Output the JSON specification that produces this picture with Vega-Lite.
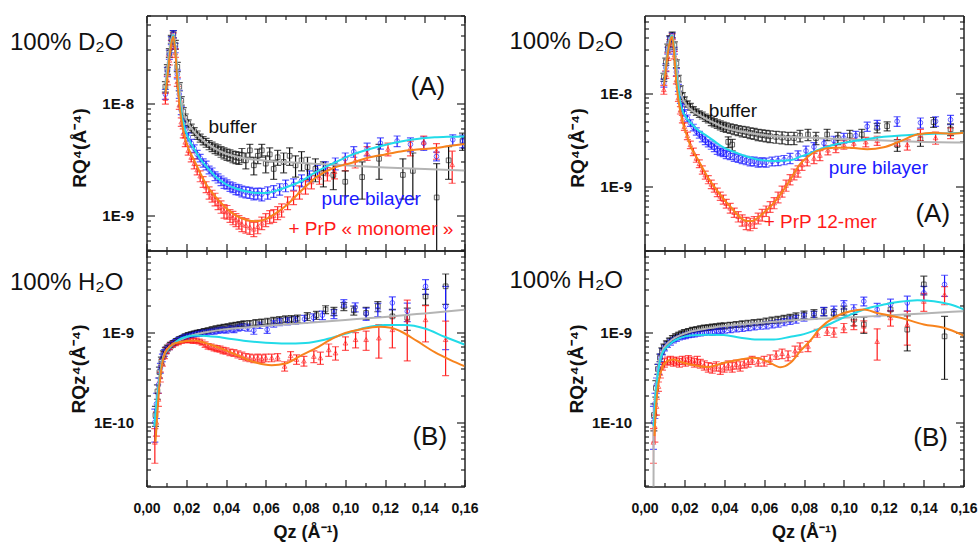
{
"$schema":"https://vega.github.io/schema/vega-lite/v6.json",
"background":"white",
"padding":{"left":9.5,"top":8.5,"right":5,"bottom":2},
"config":{"view":{"stroke":null},"axis":{"domainColor":"#222","domainWidth":1.5,"tickColor":"#222","tickWidth":1.2,"labelFont":"Liberation Sans","labelFontWeight":"bold","labelColor":"#111","titleFont":"Liberation Sans","titleFontWeight":"bold","titleColor":"#111","grid":false,"labelOverlap":false,"labelFlush":false,"labelBound":false},"text":{"font":"Liberation Sans"}},
"datasets":{
"LA_f":[
{"s":"g","q":0.0095,"v":1.5e-8},{"s":"g","q":0.0105,"v":2.1e-8},{"s":"g","q":0.0115,"v":2.9e-8},{"s":"g","q":0.0125,"v":3.7e-8},{"s":"g","q":0.0135,"v":4.1e-8},{"s":"g","q":0.0145,"v":3.2e-8},{"s":"g","q":0.0155,"v":2.0e-8},{"s":"g","q":0.0165,"v":1.35e-8},{"s":"g","q":0.0175,"v":1.0e-8},{"s":"g","q":0.019,"v":7.8e-9},{"s":"g","q":0.021,"v":6.6e-9},{"s":"g","q":0.0235,"v":5.7e-9},{"s":"g","q":0.026,"v":5.1e-9},{"s":"g","q":0.03,"v":4.45e-9},{"s":"g","q":0.035,"v":3.9e-9},{"s":"g","q":0.04,"v":3.55e-9},{"s":"g","q":0.045,"v":3.35e-9},{"s":"g","q":0.05,"v":3.22e-9},{"s":"g","q":0.06,"v":3.08e-9},{"s":"g","q":0.07,"v":2.99e-9},{"s":"g","q":0.08,"v":2.92e-9},{"s":"g","q":0.09,"v":2.86e-9},{"s":"g","q":0.1,"v":2.8e-9},{"s":"g","q":0.12,"v":2.68e-9},{"s":"g","q":0.14,"v":2.6e-9},{"s":"g","q":0.16,"v":2.52e-9},
{"s":"c","q":0.0095,"v":1.3e-8},{"s":"c","q":0.0105,"v":1.8e-8},{"s":"c","q":0.0115,"v":2.6e-8},{"s":"c","q":0.0125,"v":3.5e-8},{"s":"c","q":0.0135,"v":4.0e-8},{"s":"c","q":0.0145,"v":3.0e-8},{"s":"c","q":0.0155,"v":1.75e-8},{"s":"c","q":0.0165,"v":1.15e-8},{"s":"c","q":0.0175,"v":8.3e-9},{"s":"c","q":0.019,"v":6.2e-9},{"s":"c","q":0.021,"v":4.9e-9},{"s":"c","q":0.024,"v":3.9e-9},{"s":"c","q":0.027,"v":3.2e-9},{"s":"c","q":0.03,"v":2.75e-9},{"s":"c","q":0.035,"v":2.2e-9},{"s":"c","q":0.04,"v":1.9e-9},{"s":"c","q":0.045,"v":1.74e-9},{"s":"c","q":0.05,"v":1.64e-9},{"s":"c","q":0.055,"v":1.59e-9},{"s":"c","q":0.06,"v":1.59e-9},{"s":"c","q":0.065,"v":1.66e-9},{"s":"c","q":0.07,"v":1.78e-9},{"s":"c","q":0.0775,"v":2.01e-9},{"s":"c","q":0.085,"v":2.42e-9},{"s":"c","q":0.094,"v":2.92e-9},{"s":"c","q":0.102,"v":3.4e-9},{"s":"c","q":0.111,"v":3.85e-9},{"s":"c","q":0.12,"v":4.25e-9},{"s":"c","q":0.128,"v":4.56e-9},{"s":"c","q":0.136,"v":4.8e-9},{"s":"c","q":0.145,"v":4.96e-9},{"s":"c","q":0.152,"v":5.02e-9},{"s":"c","q":0.16,"v":5.06e-9},
{"s":"o","q":0.0095,"v":1.2e-8},{"s":"o","q":0.0105,"v":1.7e-8},{"s":"o","q":0.0115,"v":2.5e-8},{"s":"o","q":0.0125,"v":3.4e-8},{"s":"o","q":0.0135,"v":3.9e-8},{"s":"o","q":0.0145,"v":2.9e-8},{"s":"o","q":0.0155,"v":1.6e-8},{"s":"o","q":0.0165,"v":1.0e-8},{"s":"o","q":0.0175,"v":7.2e-9},{"s":"o","q":0.019,"v":5.2e-9},{"s":"o","q":0.021,"v":4.0e-9},{"s":"o","q":0.024,"v":3.1e-9},{"s":"o","q":0.027,"v":2.4e-9},{"s":"o","q":0.03,"v":1.9e-9},{"s":"o","q":0.035,"v":1.45e-9},{"s":"o","q":0.04,"v":1.17e-9},{"s":"o","q":0.045,"v":1.0e-9},{"s":"o","q":0.05,"v":9.2e-10},{"s":"o","q":0.055,"v":8.9e-10},{"s":"o","q":0.06,"v":9.3e-10},{"s":"o","q":0.065,"v":1.05e-9},{"s":"o","q":0.07,"v":1.22e-9},{"s":"o","q":0.0775,"v":1.64e-9},{"s":"o","q":0.086,"v":2.23e-9},{"s":"o","q":0.094,"v":2.65e-9},{"s":"o","q":0.103,"v":2.94e-9},{"s":"o","q":0.111,"v":3.25e-9},{"s":"o","q":0.12,"v":3.5e-9},{"s":"o","q":0.128,"v":3.72e-9},{"s":"o","q":0.136,"v":3.86e-9},{"s":"o","q":0.145,"v":3.98e-9},{"s":"o","q":0.152,"v":4.15e-9},{"s":"o","q":0.16,"v":4.33e-9}],
"LA_p":[
{"s":"k","q":0.0095,"v":1.4e-8,"e":1.5e-9},{"s":"k","q":0.0105,"v":2.0e-8,"e":2e-9},{"s":"k","q":0.0115,"v":2.8e-8,"e":2.5e-9},{"s":"k","q":0.0125,"v":3.7e-8,"e":3e-9},{"s":"k","q":0.0135,"v":4.1e-8,"e":3e-9},{"s":"k","q":0.0145,"v":3.3e-8,"e":3e-9},{"s":"k","q":0.0155,"v":2.1e-8,"e":2e-9},{"s":"k","q":0.0165,"v":1.4e-8,"e":1.2e-9},{"s":"k","q":0.0175,"v":1.05e-8,"e":9e-10},{"s":"k","q":0.0185,"v":8.4e-9,"e":7e-10},{"s":"k","q":0.0195,"v":7.4e-9,"e":6e-10},{"s":"k","q":0.021,"v":6.6e-9,"e":5e-10},{"s":"k","q":0.0225,"v":6.0e-9,"e":5e-10},{"s":"k","q":0.024,"v":5.6e-9,"e":4.5e-10},{"s":"k","q":0.0255,"v":5.2e-9,"e":4.5e-10},{"s":"k","q":0.027,"v":4.9e-9,"e":4e-10},{"s":"k","q":0.0285,"v":4.65e-9,"e":4e-10},{"s":"k","q":0.03,"v":4.45e-9,"e":4e-10},{"s":"k","q":0.0315,"v":4.25e-9,"e":4e-10},{"s":"k","q":0.033,"v":4.1e-9,"e":4e-10},{"s":"k","q":0.0345,"v":3.95e-9,"e":4e-10},{"s":"k","q":0.036,"v":3.85e-9,"e":4e-10},{"s":"k","q":0.0375,"v":3.7e-9,"e":4e-10},{"s":"k","q":0.039,"v":3.6e-9,"e":4e-10},{"s":"k","q":0.0405,"v":3.5e-9,"e":4e-10},{"s":"k","q":0.042,"v":3.45e-9,"e":4e-10},{"s":"k","q":0.0435,"v":3.35e-9,"e":4e-10},{"s":"k","q":0.045,"v":3.3e-9,"e":4e-10},{"s":"k","q":0.0465,"v":3.25e-9,"e":4e-10},{"s":"k","q":0.048,"v":3.45e-9,"e":5e-10},{"s":"k","q":0.05,"v":3.1e-9,"e":5e-10},{"s":"k","q":0.052,"v":3.8e-9,"e":5e-10},{"s":"k","q":0.054,"v":2.8e-9,"e":5e-10},{"s":"k","q":0.056,"v":3.4e-9,"e":5e-10},{"s":"k","q":0.058,"v":3.8e-9,"e":5e-10},{"s":"k","q":0.06,"v":2.9e-9,"e":5e-10},{"s":"k","q":0.062,"v":3.5e-9,"e":5e-10},{"s":"k","q":0.064,"v":2.6e-9,"e":5e-10},{"s":"k","q":0.066,"v":3.3e-9,"e":5e-10},{"s":"k","q":0.069,"v":3.0e-9,"e":6e-10},{"s":"k","q":0.072,"v":3.4e-9,"e":6e-10},{"s":"k","q":0.075,"v":2.8e-9,"e":6e-10},{"s":"k","q":0.078,"v":3.1e-9,"e":6e-10},{"s":"k","q":0.081,"v":2.7e-9,"e":6e-10},{"s":"k","q":0.085,"v":2.6e-9,"e":6e-10},{"s":"k","q":0.089,"v":2.4e-9,"e":6e-10},{"s":"k","q":0.094,"v":2.3e-9,"e":6e-10},{"s":"k","q":0.1,"v":2.0e-9,"e":5e-10},{"s":"k","q":0.1085,"v":2.2e-9,"e":8e-10},{"s":"k","q":0.117,"v":3.2e-9,"e":1.1e-9},{"s":"k","q":0.129,"v":2.3e-9,"e":9e-10},{"s":"k","q":0.134,"v":2.5e-9,"e":1.1e-9},{"s":"k","q":0.146,"v":1.45e-9,"e":1.449e-9},{"s":"k","q":0.152,"v":3.1e-9,"e":1.0e-9},{"s":"k","q":0.159,"v":4.6e-9,"e":8e-10},
{"s":"b","q":0.0095,"v":1.2e-8,"e":1.2e-9},{"s":"b","q":0.0105,"v":1.9e-8,"e":1.8e-9},{"s":"b","q":0.0115,"v":2.7e-8,"e":2.5e-9},{"s":"b","q":0.0125,"v":3.6e-8,"e":3e-9},{"s":"b","q":0.0135,"v":4.1e-8,"e":3e-9},{"s":"b","q":0.0145,"v":3.1e-8,"e":3e-9},{"s":"b","q":0.0155,"v":1.8e-8,"e":1.6e-9},{"s":"b","q":0.0165,"v":1.2e-8,"e":1e-9},{"s":"b","q":0.0175,"v":8.6e-9,"e":7e-10},{"s":"b","q":0.0185,"v":6.8e-9,"e":5e-10},{"s":"b","q":0.0195,"v":5.8e-9,"e":4.5e-10},{"s":"b","q":0.021,"v":5.0e-9,"e":4e-10},{"s":"b","q":0.0225,"v":4.4e-9,"e":3.5e-10},{"s":"b","q":0.024,"v":3.95e-9,"e":3e-10},{"s":"b","q":0.0255,"v":3.5e-9,"e":3e-10},{"s":"b","q":0.027,"v":3.25e-9,"e":2.5e-10},{"s":"b","q":0.0285,"v":2.95e-9,"e":2.5e-10},{"s":"b","q":0.03,"v":2.8e-9,"e":2.5e-10},{"s":"b","q":0.0315,"v":2.55e-9,"e":2e-10},{"s":"b","q":0.033,"v":2.45e-9,"e":2e-10},{"s":"b","q":0.0345,"v":2.25e-9,"e":2e-10},{"s":"b","q":0.036,"v":2.15e-9,"e":2e-10},{"s":"b","q":0.0375,"v":2.05e-9,"e":2e-10},{"s":"b","q":0.039,"v":1.95e-9,"e":2e-10},{"s":"b","q":0.0405,"v":1.9e-9,"e":1.8e-10},{"s":"b","q":0.042,"v":1.82e-9,"e":1.8e-10},{"s":"b","q":0.0435,"v":1.78e-9,"e":1.8e-10},{"s":"b","q":0.045,"v":1.72e-9,"e":1.8e-10},{"s":"b","q":0.0465,"v":1.7e-9,"e":1.8e-10},{"s":"b","q":0.048,"v":1.65e-9,"e":1.8e-10},{"s":"b","q":0.05,"v":1.62e-9,"e":1.8e-10},{"s":"b","q":0.052,"v":1.6e-9,"e":1.8e-10},{"s":"b","q":0.054,"v":1.56e-9,"e":1.8e-10},{"s":"b","q":0.056,"v":1.58e-9,"e":1.8e-10},{"s":"b","q":0.058,"v":1.55e-9,"e":2e-10},{"s":"b","q":0.061,"v":1.6e-9,"e":2e-10},{"s":"b","q":0.064,"v":1.65e-9,"e":2e-10},{"s":"b","q":0.067,"v":1.72e-9,"e":2e-10},{"s":"b","q":0.07,"v":1.85e-9,"e":2.2e-10},{"s":"b","q":0.074,"v":1.9e-9,"e":2.2e-10},{"s":"b","q":0.078,"v":2.05e-9,"e":2.5e-10},{"s":"b","q":0.082,"v":2.25e-9,"e":2.5e-10},{"s":"b","q":0.086,"v":2.5e-9,"e":3e-10},{"s":"b","q":0.09,"v":2.7e-9,"e":3e-10},{"s":"b","q":0.095,"v":2.9e-9,"e":3.5e-10},{"s":"b","q":0.1,"v":3.2e-9,"e":4e-10},{"s":"b","q":0.1043,"v":3.7e-9,"e":4e-10},{"s":"b","q":0.111,"v":3.9e-9,"e":5e-10},{"s":"b","q":0.1177,"v":4.4e-9,"e":5e-10},{"s":"b","q":0.1261,"v":4.6e-9,"e":5e-10},{"s":"b","q":0.1328,"v":4.3e-9,"e":6e-10},{"s":"b","q":0.1395,"v":4.4e-9,"e":6e-10},{"s":"b","q":0.1459,"v":3.36e-9,"e":3e-10},{"s":"b","q":0.1541,"v":4.72e-9,"e":5e-10},{"s":"b","q":0.1591,"v":4.6e-9,"e":6e-10},
{"s":"r","q":0.0095,"v":1.1e-8,"e":1.2e-9},{"s":"r","q":0.0105,"v":1.6e-8,"e":1.5e-9},{"s":"r","q":0.0115,"v":2.4e-8,"e":2.2e-9},{"s":"r","q":0.0125,"v":3.3e-8,"e":3e-9},{"s":"r","q":0.0135,"v":3.9e-8,"e":3e-9},{"s":"r","q":0.0145,"v":2.8e-8,"e":2.5e-9},{"s":"r","q":0.0155,"v":1.55e-8,"e":1.4e-9},{"s":"r","q":0.0165,"v":9.6e-9,"e":8e-10},{"s":"r","q":0.0175,"v":6.8e-9,"e":6e-10},{"s":"r","q":0.0185,"v":5.4e-9,"e":5e-10},{"s":"r","q":0.0195,"v":4.5e-9,"e":4e-10},{"s":"r","q":0.021,"v":3.8e-9,"e":3.5e-10},{"s":"r","q":0.0225,"v":3.3e-9,"e":3e-10},{"s":"r","q":0.024,"v":2.9e-9,"e":3e-10},{"s":"r","q":0.0255,"v":2.55e-9,"e":2.5e-10},{"s":"r","q":0.027,"v":2.25e-9,"e":2.5e-10},{"s":"r","q":0.0285,"v":2.0e-9,"e":2.2e-10},{"s":"r","q":0.03,"v":1.8e-9,"e":2e-10},{"s":"r","q":0.0315,"v":1.6e-9,"e":2e-10},{"s":"r","q":0.033,"v":1.5e-9,"e":1.8e-10},{"s":"r","q":0.0345,"v":1.4e-9,"e":1.8e-10},{"s":"r","q":0.036,"v":1.28e-9,"e":1.5e-10},{"s":"r","q":0.0375,"v":1.2e-9,"e":1.5e-10},{"s":"r","q":0.039,"v":1.1e-9,"e":1.5e-10},{"s":"r","q":0.0405,"v":1.08e-9,"e":1.5e-10},{"s":"r","q":0.042,"v":1.0e-9,"e":1.3e-10},{"s":"r","q":0.0435,"v":9.6e-10,"e":1.3e-10},{"s":"r","q":0.045,"v":9.2e-10,"e":1.2e-10},{"s":"r","q":0.0465,"v":8.8e-10,"e":1.2e-10},{"s":"r","q":0.048,"v":8.4e-10,"e":1.2e-10},{"s":"r","q":0.05,"v":8.2e-10,"e":1.2e-10},{"s":"r","q":0.052,"v":7.9e-10,"e":1.1e-10},{"s":"r","q":0.054,"v":7.6e-10,"e":1.1e-10},{"s":"r","q":0.056,"v":8.0e-10,"e":1.1e-10},{"s":"r","q":0.058,"v":8.6e-10,"e":1.1e-10},{"s":"r","q":0.06,"v":9.2e-10,"e":1.2e-10},{"s":"r","q":0.062,"v":9.8e-10,"e":1.3e-10},{"s":"r","q":0.064,"v":1.0e-9,"e":1.3e-10},{"s":"r","q":0.066,"v":1.06e-9,"e":1.4e-10},{"s":"r","q":0.068,"v":1.12e-9,"e":1.5e-10},{"s":"r","q":0.071,"v":1.3e-9,"e":1.7e-10},{"s":"r","q":0.074,"v":1.45e-9,"e":2e-10},{"s":"r","q":0.077,"v":1.62e-9,"e":2.2e-10},{"s":"r","q":0.08,"v":1.8e-9,"e":2.5e-10},{"s":"r","q":0.083,"v":2.0e-9,"e":2.7e-10},{"s":"r","q":0.087,"v":2.2e-9,"e":3e-10},{"s":"r","q":0.091,"v":2.35e-9,"e":3.2e-10},{"s":"r","q":0.0946,"v":2.47e-9,"e":3.5e-10},{"s":"r","q":0.1,"v":2.9e-9,"e":4e-10},{"s":"r","q":0.105,"v":3.1e-9,"e":4.5e-10},{"s":"r","q":0.111,"v":3.6e-9,"e":5e-10},{"s":"r","q":0.1215,"v":3.9e-9,"e":5e-10},{"s":"r","q":0.1328,"v":4.0e-9,"e":6e-10},{"s":"r","q":0.1395,"v":4.5e-9,"e":6e-10},{"s":"r","q":0.1459,"v":3.77e-9,"e":6e-10},{"s":"r","q":0.1538,"v":2.84e-9,"e":9e-10}],
"RA_f":[
{"s":"g","q":0.0097,"v":1.5e-8},{"s":"g","q":0.0107,"v":2.2e-8},{"s":"g","q":0.0117,"v":3.0e-8},{"s":"g","q":0.0127,"v":3.9e-8},{"s":"g","q":0.0139,"v":4.3e-8},{"s":"g","q":0.015,"v":3.2e-8},{"s":"g","q":0.016,"v":2.0e-8},{"s":"g","q":0.017,"v":1.35e-8},{"s":"g","q":0.018,"v":1.05e-8},{"s":"g","q":0.0195,"v":8.5e-9},{"s":"g","q":0.0215,"v":7.3e-9},{"s":"g","q":0.024,"v":6.5e-9},{"s":"g","q":0.027,"v":5.9e-9},{"s":"g","q":0.0314,"v":5.25e-9},{"s":"g","q":0.036,"v":4.7e-9},{"s":"g","q":0.04,"v":4.3e-9},{"s":"g","q":0.0481,"v":3.9e-9},{"s":"g","q":0.056,"v":3.65e-9},{"s":"g","q":0.065,"v":3.45e-9},{"s":"g","q":0.08,"v":3.35e-9},{"s":"g","q":0.1,"v":3.2e-9},{"s":"g","q":0.12,"v":3.1e-9},{"s":"g","q":0.14,"v":3.0e-9},{"s":"g","q":0.16,"v":2.95e-9},
{"s":"c","q":0.0097,"v":1.3e-8},{"s":"c","q":0.0107,"v":1.9e-8},{"s":"c","q":0.0117,"v":2.8e-8},{"s":"c","q":0.0127,"v":3.7e-8},{"s":"c","q":0.0139,"v":4.2e-8},{"s":"c","q":0.015,"v":2.8e-8},{"s":"c","q":0.016,"v":1.6e-8},{"s":"c","q":0.017,"v":1.1e-8},{"s":"c","q":0.018,"v":7.9e-9},{"s":"c","q":0.0195,"v":6.2e-9},{"s":"c","q":0.0215,"v":5.3e-9},{"s":"c","q":0.0231,"v":4.83e-9},{"s":"c","q":0.027,"v":4.0e-9},{"s":"c","q":0.0314,"v":3.47e-9},{"s":"c","q":0.0355,"v":3.0e-9},{"s":"c","q":0.0398,"v":2.6e-9},{"s":"c","q":0.044,"v":2.38e-9},{"s":"c","q":0.0481,"v":2.2e-9},{"s":"c","q":0.0525,"v":2.05e-9},{"s":"c","q":0.0565,"v":1.94e-9},{"s":"c","q":0.0649,"v":1.87e-9},{"s":"c","q":0.0732,"v":1.9e-9},{"s":"c","q":0.0782,"v":2.08e-9},{"s":"c","q":0.0816,"v":2.2e-9},{"s":"c","q":0.088,"v":2.5e-9},{"s":"c","q":0.095,"v":2.8e-9},{"s":"c","q":0.1033,"v":3.02e-9},{"s":"c","q":0.1117,"v":3.23e-9},{"s":"c","q":0.12,"v":3.4e-9},{"s":"c","q":0.1284,"v":3.52e-9},{"s":"c","q":0.1368,"v":3.6e-9},{"s":"c","q":0.1451,"v":3.67e-9},{"s":"c","q":0.1535,"v":3.72e-9},{"s":"c","q":0.16,"v":3.76e-9},
{"s":"o","q":0.0097,"v":1.2e-8},{"s":"o","q":0.0107,"v":1.8e-8},{"s":"o","q":0.0117,"v":2.7e-8},{"s":"o","q":0.0127,"v":3.6e-8},{"s":"o","q":0.0139,"v":4.1e-8},{"s":"o","q":0.015,"v":2.5e-8},{"s":"o","q":0.016,"v":1.3e-8},{"s":"o","q":0.017,"v":8.5e-9},{"s":"o","q":0.018,"v":6.3e-9},{"s":"o","q":0.0197,"v":4.44e-9},{"s":"o","q":0.0215,"v":3.4e-9},{"s":"o","q":0.0231,"v":2.7e-9},{"s":"o","q":0.027,"v":1.9e-9},{"s":"o","q":0.0314,"v":1.28e-9},{"s":"o","q":0.0355,"v":9.5e-10},{"s":"o","q":0.0398,"v":7.2e-10},{"s":"o","q":0.044,"v":5.7e-10},{"s":"o","q":0.0481,"v":4.57e-10},{"s":"o","q":0.0515,"v":4.2e-10},{"s":"o","q":0.054,"v":4.2e-10},{"s":"o","q":0.0565,"v":4.5e-10},{"s":"o","q":0.06,"v":5.2e-10},{"s":"o","q":0.0649,"v":6.6e-10},{"s":"o","q":0.069,"v":8.6e-10},{"s":"o","q":0.0732,"v":1.18e-9},{"s":"o","q":0.0782,"v":1.75e-9},{"s":"o","q":0.0816,"v":2.05e-9},{"s":"o","q":0.0866,"v":2.4e-9},{"s":"o","q":0.095,"v":2.6e-9},{"s":"o","q":0.1033,"v":2.6e-9},{"s":"o","q":0.1117,"v":2.5e-9},{"s":"o","q":0.12,"v":2.62e-9},{"s":"o","q":0.1284,"v":3.06e-9},{"s":"o","q":0.1368,"v":3.6e-9},{"s":"o","q":0.1451,"v":3.76e-9},{"s":"o","q":0.1535,"v":3.67e-9},{"s":"o","q":0.16,"v":3.76e-9}],
"RA_p":[
{"s":"k","q":0.0097,"v":1.5e-8,"e":1.5e-9},{"s":"k","q":0.0107,"v":2.2e-8,"e":2e-9},{"s":"k","q":0.0117,"v":3.1e-8,"e":3e-9},{"s":"k","q":0.0127,"v":3.9e-8,"e":3e-9},{"s":"k","q":0.0139,"v":4.3e-8,"e":3e-9},{"s":"k","q":0.015,"v":3.3e-8,"e":3e-9},{"s":"k","q":0.016,"v":2.1e-8,"e":2e-9},{"s":"k","q":0.017,"v":1.45e-8,"e":1.2e-9},{"s":"k","q":0.018,"v":1.12e-8,"e":9e-10},{"s":"k","q":0.019,"v":9.4e-9,"e":8e-10},{"s":"k","q":0.02,"v":8.5e-9,"e":7e-10},{"s":"k","q":0.0215,"v":7.7e-9,"e":6e-10},{"s":"k","q":0.023,"v":7.2e-9,"e":6e-10},{"s":"k","q":0.0245,"v":6.7e-9,"e":5e-10},{"s":"k","q":0.026,"v":6.3e-9,"e":5e-10},{"s":"k","q":0.0275,"v":6.0e-9,"e":5e-10},{"s":"k","q":0.029,"v":5.8e-9,"e":5e-10},{"s":"k","q":0.0305,"v":5.5e-9,"e":5e-10},{"s":"k","q":0.032,"v":5.3e-9,"e":5e-10},{"s":"k","q":0.0335,"v":5.0e-9,"e":5e-10},{"s":"k","q":0.035,"v":4.85e-9,"e":5e-10},{"s":"k","q":0.0365,"v":4.7e-9,"e":5e-10},{"s":"k","q":0.038,"v":4.55e-9,"e":5e-10},{"s":"k","q":0.0395,"v":4.4e-9,"e":5e-10},{"s":"k","q":0.041,"v":4.3e-9,"e":5e-10},{"s":"k","q":0.042,"v":3.0e-9,"e":4e-10},{"s":"k","q":0.043,"v":4.2e-9,"e":5e-10},{"s":"k","q":0.044,"v":2.8e-9,"e":4e-10},{"s":"k","q":0.045,"v":4.1e-9,"e":5e-10},{"s":"k","q":0.047,"v":4.0e-9,"e":5e-10},{"s":"k","q":0.049,"v":3.9e-9,"e":5e-10},{"s":"k","q":0.051,"v":3.85e-9,"e":5e-10},{"s":"k","q":0.053,"v":3.75e-9,"e":5e-10},{"s":"k","q":0.055,"v":3.7e-9,"e":5e-10},{"s":"k","q":0.057,"v":3.6e-9,"e":5e-10},{"s":"k","q":0.059,"v":3.55e-9,"e":5e-10},{"s":"k","q":0.061,"v":3.5e-9,"e":5e-10},{"s":"k","q":0.063,"v":3.45e-9,"e":5e-10},{"s":"k","q":0.066,"v":3.4e-9,"e":5e-10},{"s":"k","q":0.069,"v":3.35e-9,"e":5e-10},{"s":"k","q":0.072,"v":3.3e-9,"e":5e-10},{"s":"k","q":0.075,"v":3.3e-9,"e":5e-10},{"s":"k","q":0.078,"v":3.5e-9,"e":5e-10},{"s":"k","q":0.082,"v":3.6e-9,"e":5e-10},{"s":"k","q":0.086,"v":3.3e-9,"e":5e-10},{"s":"k","q":0.0916,"v":3.6e-9,"e":5e-10},{"s":"k","q":0.097,"v":3.3e-9,"e":5e-10},{"s":"k","q":0.103,"v":3.5e-9,"e":5e-10},{"s":"k","q":0.109,"v":3.6e-9,"e":5e-10},{"s":"k","q":0.1167,"v":4.25e-9,"e":5e-10},{"s":"k","q":0.1217,"v":4.44e-9,"e":5e-10},{"s":"k","q":0.1268,"v":2.77e-9,"e":4e-10},{"s":"k","q":0.1384,"v":3.19e-9,"e":5e-10},{"s":"k","q":0.145,"v":4.9e-9,"e":6e-10},{"s":"k","q":0.1535,"v":4.1e-9,"e":6e-10},
{"s":"b","q":0.0097,"v":1.3e-8,"e":1.3e-9},{"s":"b","q":0.0107,"v":1.9e-8,"e":1.8e-9},{"s":"b","q":0.0117,"v":2.9e-8,"e":2.5e-9},{"s":"b","q":0.0127,"v":3.8e-8,"e":3e-9},{"s":"b","q":0.0139,"v":4.2e-8,"e":3e-9},{"s":"b","q":0.015,"v":2.9e-8,"e":2.5e-9},{"s":"b","q":0.016,"v":1.7e-8,"e":1.5e-9},{"s":"b","q":0.017,"v":1.15e-8,"e":1e-9},{"s":"b","q":0.018,"v":8.5e-9,"e":7e-10},{"s":"b","q":0.019,"v":7.0e-9,"e":6e-10},{"s":"b","q":0.02,"v":6.2e-9,"e":5e-10},{"s":"b","q":0.0215,"v":5.4e-9,"e":4.5e-10},{"s":"b","q":0.023,"v":4.8e-9,"e":4e-10},{"s":"b","q":0.0245,"v":4.3e-9,"e":3.5e-10},{"s":"b","q":0.026,"v":3.9e-9,"e":3.5e-10},{"s":"b","q":0.0275,"v":3.6e-9,"e":3e-10},{"s":"b","q":0.029,"v":3.3e-9,"e":3e-10},{"s":"b","q":0.0305,"v":3.1e-9,"e":3e-10},{"s":"b","q":0.032,"v":2.9e-9,"e":2.5e-10},{"s":"b","q":0.0335,"v":2.75e-9,"e":2.5e-10},{"s":"b","q":0.035,"v":2.6e-9,"e":2.5e-10},{"s":"b","q":0.0365,"v":2.45e-9,"e":2.5e-10},{"s":"b","q":0.038,"v":2.35e-9,"e":2.2e-10},{"s":"b","q":0.0395,"v":2.3e-9,"e":2.2e-10},{"s":"b","q":0.041,"v":2.2e-9,"e":2.2e-10},{"s":"b","q":0.043,"v":2.15e-9,"e":2.2e-10},{"s":"b","q":0.045,"v":2.05e-9,"e":2e-10},{"s":"b","q":0.047,"v":2.0e-9,"e":2e-10},{"s":"b","q":0.049,"v":1.95e-9,"e":2e-10},{"s":"b","q":0.051,"v":1.9e-9,"e":2e-10},{"s":"b","q":0.053,"v":1.85e-9,"e":2e-10},{"s":"b","q":0.055,"v":1.85e-9,"e":2e-10},{"s":"b","q":0.057,"v":1.8e-9,"e":2e-10},{"s":"b","q":0.059,"v":1.82e-9,"e":2e-10},{"s":"b","q":0.061,"v":1.8e-9,"e":2e-10},{"s":"b","q":0.064,"v":1.85e-9,"e":2e-10},{"s":"b","q":0.067,"v":1.88e-9,"e":2.2e-10},{"s":"b","q":0.07,"v":1.92e-9,"e":2.2e-10},{"s":"b","q":0.073,"v":2.0e-9,"e":2.5e-10},{"s":"b","q":0.077,"v":2.15e-9,"e":2.5e-10},{"s":"b","q":0.081,"v":2.4e-9,"e":3e-10},{"s":"b","q":0.085,"v":2.65e-9,"e":3e-10},{"s":"b","q":0.09,"v":2.9e-9,"e":3.5e-10},{"s":"b","q":0.095,"v":3.1e-9,"e":3.5e-10},{"s":"b","q":0.1,"v":3.3e-9,"e":4e-10},{"s":"b","q":0.106,"v":3.5e-9,"e":4e-10},{"s":"b","q":0.1117,"v":4.4e-9,"e":5e-10},{"s":"b","q":0.1167,"v":4.63e-9,"e":5e-10},{"s":"b","q":0.1267,"v":5.0e-9,"e":6e-10},{"s":"b","q":0.1384,"v":4.83e-9,"e":6e-10},{"s":"b","q":0.146,"v":5.0e-9,"e":6e-10},{"s":"b","q":0.1535,"v":5.2e-9,"e":6e-10},
{"s":"r","q":0.0097,"v":1.1e-8,"e":1.2e-9},{"s":"r","q":0.0107,"v":1.6e-8,"e":1.5e-9},{"s":"r","q":0.0117,"v":2.5e-8,"e":2.3e-9},{"s":"r","q":0.0127,"v":3.5e-8,"e":3e-9},{"s":"r","q":0.0139,"v":4.1e-8,"e":3e-9},{"s":"r","q":0.015,"v":2.6e-8,"e":2.4e-9},{"s":"r","q":0.016,"v":1.4e-8,"e":1.3e-9},{"s":"r","q":0.017,"v":9.0e-9,"e":8e-10},{"s":"r","q":0.018,"v":6.6e-9,"e":6e-10},{"s":"r","q":0.019,"v":5.3e-9,"e":5e-10},{"s":"r","q":0.02,"v":4.4e-9,"e":4e-10},{"s":"r","q":0.0215,"v":3.5e-9,"e":3.2e-10},{"s":"r","q":0.023,"v":2.8e-9,"e":2.6e-10},{"s":"r","q":0.0245,"v":2.35e-9,"e":2.2e-10},{"s":"r","q":0.026,"v":2.0e-9,"e":1.9e-10},{"s":"r","q":0.0275,"v":1.75e-9,"e":1.7e-10},{"s":"r","q":0.029,"v":1.5e-9,"e":1.5e-10},{"s":"r","q":0.0305,"v":1.32e-9,"e":1.3e-10},{"s":"r","q":0.032,"v":1.18e-9,"e":1.2e-10},{"s":"r","q":0.0335,"v":1.05e-9,"e":1.1e-10},{"s":"r","q":0.035,"v":9.6e-10,"e":1e-10},{"s":"r","q":0.0365,"v":8.6e-10,"e":9e-11},{"s":"r","q":0.038,"v":7.8e-10,"e":8e-11},{"s":"r","q":0.0395,"v":7.2e-10,"e":8e-11},{"s":"r","q":0.041,"v":6.5e-10,"e":7e-11},{"s":"r","q":0.043,"v":5.8e-10,"e":7e-11},{"s":"r","q":0.045,"v":5.2e-10,"e":6e-11},{"s":"r","q":0.047,"v":4.7e-10,"e":6e-11},{"s":"r","q":0.049,"v":4.3e-10,"e":6e-11},{"s":"r","q":0.051,"v":4.0e-10,"e":6e-11},{"s":"r","q":0.053,"v":3.9e-10,"e":6e-11},{"s":"r","q":0.055,"v":4.1e-10,"e":6e-11},{"s":"r","q":0.057,"v":4.5e-10,"e":6e-11},{"s":"r","q":0.059,"v":4.9e-10,"e":7e-11},{"s":"r","q":0.061,"v":5.4e-10,"e":7e-11},{"s":"r","q":0.063,"v":6.0e-10,"e":8e-11},{"s":"r","q":0.065,"v":6.6e-10,"e":9e-11},{"s":"r","q":0.067,"v":7.6e-10,"e":1e-10},{"s":"r","q":0.069,"v":8.8e-10,"e":1.2e-10},{"s":"r","q":0.071,"v":1.02e-9,"e":1.4e-10},{"s":"r","q":0.073,"v":1.18e-9,"e":1.5e-10},{"s":"r","q":0.075,"v":1.35e-9,"e":1.8e-10},{"s":"r","q":0.077,"v":1.45e-9,"e":2e-10},{"s":"r","q":0.079,"v":1.7e-9,"e":2.2e-10},{"s":"r","q":0.0816,"v":1.9e-9,"e":2.5e-10},{"s":"r","q":0.085,"v":2.0e-9,"e":2.5e-10},{"s":"r","q":0.088,"v":2.15e-9,"e":2.7e-10},{"s":"r","q":0.092,"v":2.45e-9,"e":2.8e-10},{"s":"r","q":0.096,"v":2.6e-9,"e":3e-10},{"s":"r","q":0.1,"v":2.8e-9,"e":3e-10},{"s":"r","q":0.105,"v":2.9e-9,"e":3.5e-10},{"s":"r","q":0.111,"v":3.0e-9,"e":3.5e-10},{"s":"r","q":0.1167,"v":3.1e-9,"e":3.5e-10},{"s":"r","q":0.1268,"v":3.1e-9,"e":4e-10},{"s":"r","q":0.1318,"v":2.8e-9,"e":3.5e-10},{"s":"r","q":0.1384,"v":3.6e-9,"e":5e-10},{"s":"r","q":0.146,"v":3.33e-9,"e":5e-10},{"s":"r","q":0.1535,"v":3.76e-9,"e":5e-10}],
"LB_f":[
{"s":"g","q":0.004,"v":9e-11},{"s":"g","q":0.005,"v":1.6e-10},{"s":"g","q":0.006,"v":2.5e-10},{"s":"g","q":0.007,"v":3.8e-10},{"s":"g","q":0.008,"v":5.0e-10},{"s":"g","q":0.009,"v":5.8e-10},{"s":"g","q":0.0105,"v":6.5e-10},{"s":"g","q":0.012,"v":7.0e-10},{"s":"g","q":0.015,"v":7.8e-10},{"s":"g","q":0.02,"v":8.8e-10},{"s":"g","q":0.025,"v":9.5e-10},{"s":"g","q":0.03,"v":1.0e-9},{"s":"g","q":0.04,"v":1.08e-9},{"s":"g","q":0.05,"v":1.13e-9},{"s":"g","q":0.06,"v":1.18e-9},{"s":"g","q":0.08,"v":1.27e-9},{"s":"g","q":0.1,"v":1.37e-9},{"s":"g","q":0.12,"v":1.48e-9},{"s":"g","q":0.14,"v":1.62e-9},{"s":"g","q":0.16,"v":1.78e-9},
{"s":"c","q":0.004,"v":9e-11},{"s":"c","q":0.005,"v":1.6e-10},{"s":"c","q":0.006,"v":2.4e-10},{"s":"c","q":0.007,"v":3.6e-10},{"s":"c","q":0.008,"v":4.8e-10},{"s":"c","q":0.009,"v":5.6e-10},{"s":"c","q":0.0105,"v":6.3e-10},{"s":"c","q":0.013,"v":7.2e-10},{"s":"c","q":0.016,"v":8.2e-10},{"s":"c","q":0.02,"v":8.9e-10},{"s":"c","q":0.025,"v":9.2e-10},{"s":"c","q":0.03,"v":9.1e-10},{"s":"c","q":0.035,"v":8.9e-10},{"s":"c","q":0.04,"v":8.6e-10},{"s":"c","q":0.05,"v":8.0e-10},{"s":"c","q":0.06,"v":7.65e-10},{"s":"c","q":0.07,"v":7.5e-10},{"s":"c","q":0.08,"v":7.6e-10},{"s":"c","q":0.09,"v":8.3e-10},{"s":"c","q":0.1,"v":9.6e-10},{"s":"c","q":0.11,"v":1.12e-9},{"s":"c","q":0.12,"v":1.2e-9},{"s":"c","q":0.13,"v":1.2e-9},{"s":"c","q":0.14,"v":1.1e-9},{"s":"c","q":0.15,"v":8.9e-10},{"s":"c","q":0.16,"v":7.3e-10},
{"s":"o","q":0.0045,"v":6e-11},{"s":"o","q":0.0055,"v":1.3e-10},{"s":"o","q":0.0065,"v":2.6e-10},{"s":"o","q":0.0075,"v":4.0e-10},{"s":"o","q":0.0085,"v":5.2e-10},{"s":"o","q":0.0095,"v":6.0e-10},{"s":"o","q":0.011,"v":6.7e-10},{"s":"o","q":0.013,"v":7.3e-10},{"s":"o","q":0.016,"v":7.7e-10},{"s":"o","q":0.02,"v":8.0e-10},{"s":"o","q":0.024,"v":8.1e-10},{"s":"o","q":0.028,"v":7.8e-10},{"s":"o","q":0.032,"v":7.3e-10},{"s":"o","q":0.039,"v":6.4e-10},{"s":"o","q":0.047,"v":5.4e-10},{"s":"o","q":0.055,"v":4.6e-10},{"s":"o","q":0.063,"v":4.3e-10},{"s":"o","q":0.07,"v":4.5e-10},{"s":"o","q":0.077,"v":5.4e-10},{"s":"o","q":0.085,"v":6.6e-10},{"s":"o","q":0.094,"v":8.6e-10},{"s":"o","q":0.1,"v":9.8e-10},{"s":"o","q":0.108,"v":1.08e-9},{"s":"o","q":0.117,"v":1.15e-9},{"s":"o","q":0.123,"v":1.12e-9},{"s":"o","q":0.128,"v":1.02e-9},{"s":"o","q":0.136,"v":8.0e-10},{"s":"o","q":0.145,"v":6.0e-10},{"s":"o","q":0.153,"v":4.9e-10},{"s":"o","q":0.16,"v":4.2e-10}],
"LB_p":[
{"s":"k","q":0.0045,"v":1.2e-10,"e":3e-11},{"s":"k","q":0.0055,"v":2.2e-10,"e":4e-11},{"s":"k","q":0.0065,"v":3.6e-10,"e":5e-11},{"s":"k","q":0.0075,"v":4.8e-10,"e":5e-11},{"s":"k","q":0.0085,"v":5.7e-10,"e":5e-11},{"s":"k","q":0.0095,"v":6.3e-10,"e":5e-11},{"s":"k","q":0.0105,"v":6.7e-10,"e":5e-11},{"s":"k","q":0.012,"v":7.2e-10,"e":5e-11},{"s":"k","q":0.0135,"v":7.6e-10,"e":5e-11},{"s":"k","q":0.015,"v":8.0e-10,"e":5e-11},{"s":"k","q":0.0165,"v":8.4e-10,"e":5e-11},{"s":"k","q":0.018,"v":8.7e-10,"e":5e-11},{"s":"k","q":0.0195,"v":9.0e-10,"e":6e-11},{"s":"k","q":0.021,"v":9.3e-10,"e":6e-11},{"s":"k","q":0.0225,"v":9.5e-10,"e":6e-11},{"s":"k","q":0.024,"v":9.7e-10,"e":6e-11},{"s":"k","q":0.0255,"v":9.9e-10,"e":6e-11},{"s":"k","q":0.027,"v":1.0e-9,"e":7e-11},{"s":"k","q":0.029,"v":1.03e-9,"e":7e-11},{"s":"k","q":0.031,"v":1.05e-9,"e":7e-11},{"s":"k","q":0.033,"v":1.08e-9,"e":7e-11},{"s":"k","q":0.035,"v":1.1e-9,"e":8e-11},{"s":"k","q":0.037,"v":1.12e-9,"e":8e-11},{"s":"k","q":0.039,"v":1.14e-9,"e":8e-11},{"s":"k","q":0.041,"v":1.16e-9,"e":8e-11},{"s":"k","q":0.043,"v":1.18e-9,"e":9e-11},{"s":"k","q":0.045,"v":1.2e-9,"e":9e-11},{"s":"k","q":0.047,"v":1.22e-9,"e":9e-11},{"s":"k","q":0.049,"v":1.24e-9,"e":1e-10},{"s":"k","q":0.052,"v":1.25e-9,"e":1e-10},{"s":"k","q":0.055,"v":1.28e-9,"e":1e-10},{"s":"k","q":0.058,"v":1.3e-9,"e":1e-10},{"s":"k","q":0.061,"v":1.32e-9,"e":1.1e-10},{"s":"k","q":0.064,"v":1.35e-9,"e":1.1e-10},{"s":"k","q":0.067,"v":1.37e-9,"e":1.2e-10},{"s":"k","q":0.07,"v":1.4e-9,"e":1.2e-10},{"s":"k","q":0.073,"v":1.4e-9,"e":1.3e-10},{"s":"k","q":0.076,"v":1.42e-9,"e":1.3e-10},{"s":"k","q":0.0809,"v":1.5e-9,"e":1.5e-10},{"s":"k","q":0.0855,"v":1.55e-9,"e":1.6e-10},{"s":"k","q":0.0901,"v":1.79e-9,"e":1.8e-10},{"s":"k","q":0.0943,"v":1.71e-9,"e":1.8e-10},{"s":"k","q":0.0993,"v":1.94e-9,"e":2e-10},{"s":"k","q":0.1043,"v":1.75e-9,"e":2e-10},{"s":"k","q":0.1105,"v":1.64e-9,"e":2.5e-10},{"s":"k","q":0.1164,"v":1.94e-9,"e":2.5e-10},{"s":"k","q":0.1237,"v":1.5e-9,"e":3e-10},{"s":"k","q":0.1312,"v":1.45e-9,"e":4e-10},{"s":"k","q":0.1404,"v":2.5e-9,"e":5e-10},{"s":"k","q":0.1505,"v":3.24e-9,"e":1.2e-9},
{"s":"b","q":0.0042,"v":1.0e-10,"e":4e-11},{"s":"b","q":0.005,"v":1.6e-10,"e":5e-11},{"s":"b","q":0.006,"v":2.6e-10,"e":5e-11},{"s":"b","q":0.007,"v":4.0e-10,"e":5e-11},{"s":"b","q":0.008,"v":5.2e-10,"e":5e-11},{"s":"b","q":0.009,"v":5.9e-10,"e":5e-11},{"s":"b","q":0.01,"v":6.4e-10,"e":5e-11},{"s":"b","q":0.0115,"v":6.9e-10,"e":5e-11},{"s":"b","q":0.013,"v":7.4e-10,"e":5e-11},{"s":"b","q":0.0145,"v":7.8e-10,"e":5e-11},{"s":"b","q":0.016,"v":8.2e-10,"e":5e-11},{"s":"b","q":0.0175,"v":8.5e-10,"e":5e-11},{"s":"b","q":0.019,"v":8.8e-10,"e":6e-11},{"s":"b","q":0.0205,"v":9.0e-10,"e":6e-11},{"s":"b","q":0.022,"v":9.2e-10,"e":6e-11},{"s":"b","q":0.0235,"v":9.4e-10,"e":6e-11},{"s":"b","q":0.025,"v":9.6e-10,"e":6e-11},{"s":"b","q":0.0265,"v":9.7e-10,"e":7e-11},{"s":"b","q":0.028,"v":9.9e-10,"e":7e-11},{"s":"b","q":0.03,"v":1.0e-9,"e":7e-11},{"s":"b","q":0.032,"v":1.02e-9,"e":7e-11},{"s":"b","q":0.034,"v":1.03e-9,"e":8e-11},{"s":"b","q":0.036,"v":1.05e-9,"e":8e-11},{"s":"b","q":0.038,"v":1.07e-9,"e":8e-11},{"s":"b","q":0.04,"v":1.06e-9,"e":8e-11},{"s":"b","q":0.042,"v":1.1e-9,"e":9e-11},{"s":"b","q":0.044,"v":1.08e-9,"e":9e-11},{"s":"b","q":0.046,"v":1.12e-9,"e":9e-11},{"s":"b","q":0.048,"v":1.15e-9,"e":1e-10},{"s":"b","q":0.051,"v":1.13e-9,"e":1e-10},{"s":"b","q":0.054,"v":1.05e-9,"e":1e-10},{"s":"b","q":0.057,"v":1.2e-9,"e":1e-10},{"s":"b","q":0.0607,"v":1.07e-9,"e":1e-10},{"s":"b","q":0.064,"v":1.25e-9,"e":1.1e-10},{"s":"b","q":0.067,"v":1.3e-9,"e":1.2e-10},{"s":"b","q":0.071,"v":1.33e-9,"e":1.2e-10},{"s":"b","q":0.075,"v":1.36e-9,"e":1.3e-10},{"s":"b","q":0.0795,"v":1.4e-9,"e":1.4e-10},{"s":"b","q":0.084,"v":1.45e-9,"e":1.5e-10},{"s":"b","q":0.0885,"v":1.55e-9,"e":1.7e-10},{"s":"b","q":0.0943,"v":1.6e-9,"e":1.8e-10},{"s":"b","q":0.0993,"v":2.1e-9,"e":2e-10},{"s":"b","q":0.105,"v":1.9e-9,"e":2.2e-10},{"s":"b","q":0.1105,"v":1.6e-9,"e":2.5e-10},{"s":"b","q":0.1164,"v":1.79e-9,"e":3e-10},{"s":"b","q":0.1237,"v":2.12e-9,"e":3.5e-10},{"s":"b","q":0.1312,"v":1.71e-9,"e":4e-10},{"s":"b","q":0.1404,"v":3.24e-9,"e":6e-10},{"s":"b","q":0.1505,"v":1.94e-9,"e":1.3e-9},
{"s":"r","q":0.0042,"v":6e-11,"e":2.5e-11},{"s":"r","q":0.005,"v":1.0e-10,"e":3e-11},{"s":"r","q":0.006,"v":1.8e-10,"e":3e-11},{"s":"r","q":0.007,"v":3.2e-10,"e":4e-11},{"s":"r","q":0.008,"v":4.6e-10,"e":4e-11},{"s":"r","q":0.009,"v":5.6e-10,"e":5e-11},{"s":"r","q":0.01,"v":6.3e-10,"e":5e-11},{"s":"r","q":0.0115,"v":6.9e-10,"e":5e-11},{"s":"r","q":0.013,"v":7.3e-10,"e":5e-11},{"s":"r","q":0.0145,"v":7.6e-10,"e":5e-11},{"s":"r","q":0.016,"v":7.8e-10,"e":5e-11},{"s":"r","q":0.0175,"v":8.0e-10,"e":5e-11},{"s":"r","q":0.019,"v":8.2e-10,"e":5e-11},{"s":"r","q":0.0205,"v":8.1e-10,"e":5e-11},{"s":"r","q":0.022,"v":8.2e-10,"e":5e-11},{"s":"r","q":0.0235,"v":8.0e-10,"e":5e-11},{"s":"r","q":0.025,"v":8.1e-10,"e":5e-11},{"s":"r","q":0.0265,"v":7.9e-10,"e":5e-11},{"s":"r","q":0.028,"v":7.7e-10,"e":5e-11},{"s":"r","q":0.0295,"v":7.3e-10,"e":5e-11},{"s":"r","q":0.031,"v":7.0e-10,"e":5e-11},{"s":"r","q":0.0325,"v":6.9e-10,"e":5e-11},{"s":"r","q":0.034,"v":6.7e-10,"e":5e-11},{"s":"r","q":0.0355,"v":6.6e-10,"e":5e-11},{"s":"r","q":0.037,"v":6.5e-10,"e":5e-11},{"s":"r","q":0.0385,"v":6.3e-10,"e":5e-11},{"s":"r","q":0.04,"v":6.2e-10,"e":5e-11},{"s":"r","q":0.042,"v":6.0e-10,"e":5e-11},{"s":"r","q":0.044,"v":5.9e-10,"e":5e-11},{"s":"r","q":0.046,"v":5.7e-10,"e":5e-11},{"s":"r","q":0.048,"v":5.5e-10,"e":5e-11},{"s":"r","q":0.05,"v":5.3e-10,"e":5e-11},{"s":"r","q":0.052,"v":5.2e-10,"e":5e-11},{"s":"r","q":0.054,"v":5.1e-10,"e":5e-11},{"s":"r","q":0.056,"v":5.2e-10,"e":5e-11},{"s":"r","q":0.058,"v":5.1e-10,"e":5e-11},{"s":"r","q":0.06,"v":5.2e-10,"e":5e-11},{"s":"r","q":0.063,"v":5.2e-10,"e":5e-11},{"s":"r","q":0.066,"v":5.3e-10,"e":5e-11},{"s":"r","q":0.0695,"v":4.2e-10,"e":5e-11},{"s":"r","q":0.0725,"v":5.5e-10,"e":6e-11},{"s":"r","q":0.0755,"v":5.0e-10,"e":6e-11},{"s":"r","q":0.0792,"v":4.8e-10,"e":6e-11},{"s":"r","q":0.0842,"v":5.4e-10,"e":8e-11},{"s":"r","q":0.0875,"v":5.2e-10,"e":8e-11},{"s":"r","q":0.0917,"v":6.4e-10,"e":1e-10},{"s":"r","q":0.0951,"v":5.9e-10,"e":1e-10},{"s":"r","q":0.1001,"v":7.6e-10,"e":1.3e-10},{"s":"r","q":0.1052,"v":8.3e-10,"e":1.6e-10},{"s":"r","q":0.1105,"v":8.3e-10,"e":2e-10},{"s":"r","q":0.1169,"v":8.65e-10,"e":3.5e-10},{"s":"r","q":0.1237,"v":1.07e-9,"e":4e-10},{"s":"r","q":0.1312,"v":1.38e-9,"e":9e-10},{"s":"r","q":0.1404,"v":1.38e-9,"e":6e-10},{"s":"r","q":0.1505,"v":8.3e-10,"e":5e-10}],
"RB_f":[
{"s":"g","q":0.0044,"v":1e-12},{"s":"g","q":0.0046,"v":1.0e-10},{"s":"g","q":0.0055,"v":2.2e-10},{"s":"g","q":0.0065,"v":3.6e-10},{"s":"g","q":0.0075,"v":4.9e-10},{"s":"g","q":0.0085,"v":5.9e-10},{"s":"g","q":0.0095,"v":6.6e-10},{"s":"g","q":0.011,"v":7.3e-10},{"s":"g","q":0.013,"v":8.0e-10},{"s":"g","q":0.015,"v":8.6e-10},{"s":"g","q":0.018,"v":9.3e-10},{"s":"g","q":0.022,"v":1.0e-9},{"s":"g","q":0.027,"v":1.06e-9},{"s":"g","q":0.035,"v":1.13e-9},{"s":"g","q":0.045,"v":1.2e-9},{"s":"g","q":0.055,"v":1.26e-9},{"s":"g","q":0.065,"v":1.31e-9},{"s":"g","q":0.078,"v":1.38e-9},{"s":"g","q":0.1,"v":1.45e-9},{"s":"g","q":0.12,"v":1.53e-9},{"s":"g","q":0.14,"v":1.62e-9},{"s":"g","q":0.16,"v":1.71e-9},
{"s":"c","q":0.0046,"v":9e-11},{"s":"c","q":0.0055,"v":1.9e-10},{"s":"c","q":0.0065,"v":3.2e-10},{"s":"c","q":0.0075,"v":4.5e-10},{"s":"c","q":0.0085,"v":5.5e-10},{"s":"c","q":0.0095,"v":6.2e-10},{"s":"c","q":0.0114,"v":6.9e-10},{"s":"c","q":0.014,"v":7.8e-10},{"s":"c","q":0.018,"v":8.65e-10},{"s":"c","q":0.0231,"v":9.2e-10},{"s":"c","q":0.0314,"v":9.4e-10},{"s":"c","q":0.0398,"v":9.3e-10},{"s":"c","q":0.0481,"v":8.7e-10},{"s":"c","q":0.0565,"v":8.3e-10},{"s":"c","q":0.0649,"v":8.3e-10},{"s":"c","q":0.0732,"v":8.9e-10},{"s":"c","q":0.0782,"v":9.3e-10},{"s":"c","q":0.0866,"v":1.07e-9},{"s":"c","q":0.095,"v":1.3e-9},{"s":"c","q":0.1033,"v":1.57e-9},{"s":"c","q":0.112,"v":1.85e-9},{"s":"c","q":0.12,"v":2.03e-9},{"s":"c","q":0.128,"v":2.18e-9},{"s":"c","q":0.1368,"v":2.27e-9},{"s":"c","q":0.1451,"v":2.21e-9},{"s":"c","q":0.1535,"v":2.03e-9},{"s":"c","q":0.16,"v":1.8e-9},
{"s":"o","q":0.005,"v":7e-11},{"s":"o","q":0.0055,"v":1.2e-10},{"s":"o","q":0.0065,"v":2.2e-10},{"s":"o","q":0.008,"v":3.5e-10},{"s":"o","q":0.0095,"v":4.3e-10},{"s":"o","q":0.0105,"v":4.6e-10},{"s":"o","q":0.0125,"v":4.9e-10},{"s":"o","q":0.0147,"v":4.97e-10},{"s":"o","q":0.018,"v":4.7e-10},{"s":"o","q":0.0231,"v":4.37e-10},{"s":"o","q":0.0314,"v":4.1e-10},{"s":"o","q":0.0398,"v":4.57e-10},{"s":"o","q":0.0481,"v":4.97e-10},{"s":"o","q":0.0548,"v":5.2e-10},{"s":"o","q":0.0615,"v":4.76e-10},{"s":"o","q":0.0682,"v":4.08e-10},{"s":"o","q":0.0732,"v":4.57e-10},{"s":"o","q":0.0782,"v":6.2e-10},{"s":"o","q":0.0832,"v":8.1e-10},{"s":"o","q":0.0883,"v":1.12e-9},{"s":"o","q":0.095,"v":1.45e-9},{"s":"o","q":0.1033,"v":1.71e-9},{"s":"o","q":0.11,"v":1.79e-9},{"s":"o","q":0.1167,"v":1.64e-9},{"s":"o","q":0.1284,"v":1.45e-9},{"s":"o","q":0.1401,"v":1.22e-9},{"s":"o","q":0.1501,"v":1.12e-9},{"s":"o","q":0.16,"v":9.2e-10}],
"RB_p":[
{"s":"k","q":0.0047,"v":1.2e-10,"e":4e-11},{"s":"k","q":0.0057,"v":2.4e-10,"e":5e-11},{"s":"k","q":0.0067,"v":3.9e-10,"e":5e-11},{"s":"k","q":0.0077,"v":5.2e-10,"e":5e-11},{"s":"k","q":0.0087,"v":6.2e-10,"e":5e-11},{"s":"k","q":0.0097,"v":6.9e-10,"e":5e-11},{"s":"k","q":0.011,"v":7.5e-10,"e":5e-11},{"s":"k","q":0.0125,"v":8.1e-10,"e":5e-11},{"s":"k","q":0.014,"v":8.6e-10,"e":6e-11},{"s":"k","q":0.0155,"v":9.0e-10,"e":6e-11},{"s":"k","q":0.017,"v":9.4e-10,"e":6e-11},{"s":"k","q":0.0185,"v":9.7e-10,"e":6e-11},{"s":"k","q":0.02,"v":1.0e-9,"e":7e-11},{"s":"k","q":0.022,"v":1.03e-9,"e":7e-11},{"s":"k","q":0.024,"v":1.06e-9,"e":7e-11},{"s":"k","q":0.026,"v":1.08e-9,"e":7e-11},{"s":"k","q":0.028,"v":1.1e-9,"e":8e-11},{"s":"k","q":0.03,"v":1.12e-9,"e":8e-11},{"s":"k","q":0.032,"v":1.13e-9,"e":8e-11},{"s":"k","q":0.034,"v":1.15e-9,"e":8e-11},{"s":"k","q":0.036,"v":1.16e-9,"e":8e-11},{"s":"k","q":0.038,"v":1.17e-9,"e":9e-11},{"s":"k","q":0.04,"v":1.18e-9,"e":9e-11},{"s":"k","q":0.043,"v":1.2e-9,"e":9e-11},{"s":"k","q":0.046,"v":1.22e-9,"e":9e-11},{"s":"k","q":0.049,"v":1.24e-9,"e":1e-10},{"s":"k","q":0.052,"v":1.26e-9,"e":1e-10},{"s":"k","q":0.055,"v":1.28e-9,"e":1e-10},{"s":"k","q":0.058,"v":1.3e-9,"e":1e-10},{"s":"k","q":0.061,"v":1.33e-9,"e":1.1e-10},{"s":"k","q":0.064,"v":1.36e-9,"e":1.1e-10},{"s":"k","q":0.067,"v":1.38e-9,"e":1.2e-10},{"s":"k","q":0.07,"v":1.42e-9,"e":1.2e-10},{"s":"k","q":0.073,"v":1.45e-9,"e":1.3e-10},{"s":"k","q":0.076,"v":1.5e-9,"e":1.4e-10},{"s":"k","q":0.08,"v":1.57e-9,"e":1.5e-10},{"s":"k","q":0.085,"v":1.62e-9,"e":1.6e-10},{"s":"k","q":0.09,"v":1.7e-9,"e":1.8e-10},{"s":"k","q":0.095,"v":1.6e-9,"e":1.8e-10},{"s":"k","q":0.1,"v":1.75e-9,"e":2e-10},{"s":"k","q":0.105,"v":1.38e-9,"e":2e-10},{"s":"k","q":0.11,"v":1.22e-9,"e":2.5e-10},{"s":"k","q":0.1234,"v":1.79e-9,"e":3e-10},{"s":"k","q":0.1318,"v":1.07e-9,"e":4.5e-10},{"s":"k","q":0.1401,"v":3.4e-9,"e":8e-10},{"s":"k","q":0.1505,"v":9.0e-10,"e":6e-10},
{"s":"b","q":0.0045,"v":1.0e-10,"e":5e-11},{"s":"b","q":0.0052,"v":1.6e-10,"e":5e-11},{"s":"b","q":0.006,"v":2.6e-10,"e":5e-11},{"s":"b","q":0.007,"v":3.9e-10,"e":5e-11},{"s":"b","q":0.008,"v":5.2e-10,"e":5e-11},{"s":"b","q":0.009,"v":6.1e-10,"e":5e-11},{"s":"b","q":0.01,"v":6.7e-10,"e":5e-11},{"s":"b","q":0.0115,"v":7.3e-10,"e":5e-11},{"s":"b","q":0.013,"v":7.8e-10,"e":6e-11},{"s":"b","q":0.0145,"v":8.2e-10,"e":6e-11},{"s":"b","q":0.016,"v":8.5e-10,"e":6e-11},{"s":"b","q":0.0175,"v":8.8e-10,"e":6e-11},{"s":"b","q":0.019,"v":9.0e-10,"e":6e-11},{"s":"b","q":0.0205,"v":9.2e-10,"e":7e-11},{"s":"b","q":0.022,"v":9.4e-10,"e":7e-11},{"s":"b","q":0.0235,"v":9.5e-10,"e":7e-11},{"s":"b","q":0.025,"v":9.6e-10,"e":7e-11},{"s":"b","q":0.0265,"v":9.8e-10,"e":7e-11},{"s":"b","q":0.028,"v":9.9e-10,"e":8e-11},{"s":"b","q":0.03,"v":1.0e-9,"e":8e-11},{"s":"b","q":0.032,"v":1.02e-9,"e":8e-11},{"s":"b","q":0.034,"v":1.0e-9,"e":8e-11},{"s":"b","q":0.036,"v":1.04e-9,"e":8e-11},{"s":"b","q":0.038,"v":1.05e-9,"e":9e-11},{"s":"b","q":0.04,"v":1.07e-9,"e":9e-11},{"s":"b","q":0.043,"v":1.08e-9,"e":9e-11},{"s":"b","q":0.046,"v":1.1e-9,"e":9e-11},{"s":"b","q":0.049,"v":1.12e-9,"e":1e-10},{"s":"b","q":0.052,"v":1.14e-9,"e":1e-10},{"s":"b","q":0.055,"v":1.16e-9,"e":1e-10},{"s":"b","q":0.058,"v":1.18e-9,"e":1e-10},{"s":"b","q":0.061,"v":1.2e-9,"e":1.1e-10},{"s":"b","q":0.064,"v":1.23e-9,"e":1.1e-10},{"s":"b","q":0.067,"v":1.26e-9,"e":1.2e-10},{"s":"b","q":0.07,"v":1.3e-9,"e":1.2e-10},{"s":"b","q":0.073,"v":1.35e-9,"e":1.3e-10},{"s":"b","q":0.076,"v":1.4e-9,"e":1.4e-10},{"s":"b","q":0.08,"v":1.48e-9,"e":1.5e-10},{"s":"b","q":0.085,"v":1.55e-9,"e":1.6e-10},{"s":"b","q":0.0899,"v":1.71e-9,"e":1.8e-10},{"s":"b","q":0.095,"v":1.75e-9,"e":2e-10},{"s":"b","q":0.1,"v":2.03e-9,"e":2.2e-10},{"s":"b","q":0.105,"v":1.8e-9,"e":2.2e-10},{"s":"b","q":0.11,"v":2.21e-9,"e":2.5e-10},{"s":"b","q":0.1167,"v":1.79e-9,"e":3e-10},{"s":"b","q":0.1234,"v":2.03e-9,"e":3e-10},{"s":"b","q":0.1318,"v":2.12e-9,"e":4e-10},{"s":"b","q":0.1401,"v":2.74e-9,"e":5e-10},{"s":"b","q":0.1505,"v":3.4e-9,"e":9e-10},
{"s":"r","q":0.0045,"v":6e-11,"e":2.5e-11},{"s":"r","q":0.0052,"v":9e-11,"e":3e-11},{"s":"r","q":0.006,"v":1.5e-10,"e":3e-11},{"s":"r","q":0.007,"v":2.5e-10,"e":3e-11},{"s":"r","q":0.008,"v":3.5e-10,"e":4e-11},{"s":"r","q":0.009,"v":4.2e-10,"e":4e-11},{"s":"r","q":0.01,"v":4.6e-10,"e":5e-11},{"s":"r","q":0.0115,"v":4.8e-10,"e":5e-11},{"s":"r","q":0.013,"v":4.9e-10,"e":5e-11},{"s":"r","q":0.0145,"v":4.7e-10,"e":5e-11},{"s":"r","q":0.016,"v":4.8e-10,"e":5e-11},{"s":"r","q":0.0175,"v":4.6e-10,"e":5e-11},{"s":"r","q":0.019,"v":4.9e-10,"e":5e-11},{"s":"r","q":0.0205,"v":4.7e-10,"e":5e-11},{"s":"r","q":0.022,"v":5.0e-10,"e":5e-11},{"s":"r","q":0.0235,"v":4.8e-10,"e":5e-11},{"s":"r","q":0.025,"v":4.6e-10,"e":5e-11},{"s":"r","q":0.0265,"v":4.9e-10,"e":5e-11},{"s":"r","q":0.028,"v":4.5e-10,"e":5e-11},{"s":"r","q":0.03,"v":4.3e-10,"e":5e-11},{"s":"r","q":0.032,"v":4.1e-10,"e":5e-11},{"s":"r","q":0.034,"v":4.0e-10,"e":5e-11},{"s":"r","q":0.036,"v":4.2e-10,"e":5e-11},{"s":"r","q":0.038,"v":3.9e-10,"e":5e-11},{"s":"r","q":0.04,"v":4.1e-10,"e":5e-11},{"s":"r","q":0.042,"v":4.3e-10,"e":5e-11},{"s":"r","q":0.044,"v":4.1e-10,"e":5e-11},{"s":"r","q":0.046,"v":4.4e-10,"e":5e-11},{"s":"r","q":0.048,"v":4.2e-10,"e":5e-11},{"s":"r","q":0.05,"v":4.5e-10,"e":5e-11},{"s":"r","q":0.052,"v":4.6e-10,"e":5e-11},{"s":"r","q":0.054,"v":4.9e-10,"e":5e-11},{"s":"r","q":0.057,"v":4.7e-10,"e":5e-11},{"s":"r","q":0.06,"v":4.8e-10,"e":6e-11},{"s":"r","q":0.063,"v":5.0e-10,"e":6e-11},{"s":"r","q":0.066,"v":5.6e-10,"e":6e-11},{"s":"r","q":0.069,"v":5.8e-10,"e":7e-11},{"s":"r","q":0.072,"v":5.5e-10,"e":7e-11},{"s":"r","q":0.0755,"v":6.2e-10,"e":8e-11},{"s":"r","q":0.078,"v":6.8e-10,"e":8e-11},{"s":"r","q":0.082,"v":7.0e-10,"e":9e-11},{"s":"r","q":0.0866,"v":9.8e-10,"e":1e-10},{"s":"r","q":0.0916,"v":1.03e-9,"e":1.1e-10},{"s":"r","q":0.095,"v":1.0e-9,"e":1.2e-10},{"s":"r","q":0.1,"v":1.12e-9,"e":1.3e-10},{"s":"r","q":0.105,"v":1.22e-9,"e":1.5e-10},{"s":"r","q":0.11,"v":1.17e-9,"e":1.7e-10},{"s":"r","q":0.1167,"v":7.9e-10,"e":3e-10},{"s":"r","q":0.1234,"v":1.45e-9,"e":2.8e-10},{"s":"r","q":0.1318,"v":1.22e-9,"e":5e-10},{"s":"r","q":0.1401,"v":2.21e-9,"e":5e-10},{"s":"r","q":0.1505,"v":2.62e-9,"e":6e-10}]
},
"columns":2,
"spacing":{"row":0,"column":180},
"bounds":"flush",
"concat":[
{"width":318,"height":235,
"resolve":{"axis":{"x":"independent","y":"independent"}},
"layer":[
{"data":{"name":"LA_p"},"mark":{"type":"errorbar","clip":true,"thickness":1.2,"ticks":{"size":7}},
"encoding":{"x":{"field":"q","type":"quantitative","scale":{"domain":[0,0.16],"nice":false,"zero":false},"axis":{"orient":"bottom","values":[0,0.01,0.02,0.03,0.04,0.05,0.06,0.07,0.08,0.09,0.1,0.11,0.12,0.13,0.14,0.15,0.16],"labels":false,"title":null,"tickSize":{"condition":{"test":"abs(datum.value*50-round(datum.value*50))<0.01","value":-7},"value":-4}}},
"y":{"field":"v","type":"quantitative","scale":{"type":"log","domain":[4.9e-10,6e-8],"nice":false},"axis":{"orient":"left","values":[5e-10,6e-10,7e-10,8e-10,9e-10,1e-9,2e-9,3e-9,4e-9,5e-9,6e-9,7e-9,8e-9,9e-9,1e-8,2e-8,3e-8,4e-8,5e-8,6e-8],"labelExpr":"abs(log(datum.value)/LN10-round(log(datum.value)/LN10))<0.01 ? '1E'+round(log(datum.value)/LN10) : ''","labelFontSize":15,"labelPadding":21,"title":"RQ⁴(Å⁻⁴)","titleFontSize":19,"titlePadding":12,"titleY":132,"tickSize":{"condition":{"test":"abs(log(datum.value)/LN10-round(log(datum.value)/LN10))<0.01","value":-8},"value":-4}}},
"yError":{"field":"e"},
"color":{"field":"s","type":"nominal","scale":{"domain":["k","b","r","g","c","o"],"range":["#111111","#1a1aff","#ff1a1a","#b4b4b4","#22dbe8","#f7831d"]},"legend":null}}},
{"data":{"name":"LA_p"},"mark":{"type":"point","filled":false,"size":22,"strokeWidth":0.9,"clip":true},
"encoding":{"x":{"field":"q","type":"quantitative","scale":{"domain":[0,0.16],"nice":false,"zero":false},"axis":{"orient":"top","values":[0,0.01,0.02,0.03,0.04,0.05,0.06,0.07,0.08,0.09,0.1,0.11,0.12,0.13,0.14,0.15,0.16],"labels":false,"title":null,"tickSize":{"condition":{"test":"abs(datum.value*50-round(datum.value*50))<0.01","value":-7},"value":-4}}},
"y":{"field":"v","type":"quantitative","scale":{"type":"log","domain":[4.9e-10,6e-8],"nice":false},"axis":{"orient":"right","values":[5e-10,6e-10,7e-10,8e-10,9e-10,1e-9,2e-9,3e-9,4e-9,5e-9,6e-9,7e-9,8e-9,9e-9,1e-8,2e-8,3e-8,4e-8,5e-8,6e-8],"labels":false,"title":null,"tickSize":{"condition":{"test":"abs(log(datum.value)/LN10-round(log(datum.value)/LN10))<0.01","value":-8},"value":-4}}},
"shape":{"field":"s","type":"nominal","scale":{"domain":["k","b","r"],"range":["square","circle","triangle-up"]},"legend":null},
"color":{"field":"s","type":"nominal","scale":{"domain":["k","b","r","g","c","o"],"range":["#111111","#1a1aff","#ff1a1a","#b4b4b4","#22dbe8","#f7831d"]},"legend":null}}},
{"data":{"name":"LA_f"},"mark":{"type":"line","strokeWidth":2,"clip":true,"interpolate":"monotone"},
"encoding":{"x":{"field":"q","type":"quantitative","scale":{"domain":[0,0.16],"nice":false,"zero":false},"axis":null},"y":{"field":"v","type":"quantitative","scale":{"type":"log","domain":[4.9e-10,6e-8],"nice":false},"axis":null},"color":{"field":"s","type":"nominal","scale":{"domain":["k","b","r","g","c","o"],"range":["#111111","#1a1aff","#ff1a1a","#b4b4b4","#22dbe8","#f7831d"]},"legend":null}}},
{"data":{"values":[{"s":"k","q":0.0312,"v":5.45e-9,"t":"buffer"},{"s":"b","q":0.0881,"v":1.253e-9,"t":"pure bilayer"},{"s":"r","q":0.0714,"v":6.78e-10,"t":"+ PrP « monomer »"}]},"mark":{"type":"text","fontSize":19,"align":"left","baseline":"alphabetic"},
"encoding":{"x":{"field":"q","type":"quantitative","scale":{"domain":[0,0.16],"nice":false,"zero":false},"axis":null},"y":{"field":"v","type":"quantitative","scale":{"type":"log","domain":[4.9e-10,6e-8],"nice":false},"axis":null},"text":{"field":"t"},"color":{"field":"s","type":"nominal","scale":{"domain":["k","b","r","g","c","o"],"range":["#111111","#1a1aff","#ff1a1a","#b4b4b4","#22dbe8","#f7831d"]},"legend":null}}},
{"data":{"values":[{"q":-0.0687,"v":2.97e-8,"t":"100% D₂O"}]},"mark":{"type":"text","fontSize":24,"align":"left","baseline":"alphabetic","color":"#111"},
"encoding":{"x":{"field":"q","type":"quantitative","scale":{"domain":[0,0.16],"nice":false,"zero":false},"axis":null},"y":{"field":"v","type":"quantitative","scale":{"type":"log","domain":[4.9e-10,6e-8],"nice":false},"axis":null},"text":{"field":"t"}}},
{"data":{"values":[{"q":0.1328,"v":1.186e-8,"t":"(A)"}]},"mark":{"type":"text","fontSize":26,"align":"left","baseline":"alphabetic","color":"#111"},
"encoding":{"x":{"field":"q","type":"quantitative","scale":{"domain":[0,0.16],"nice":false,"zero":false},"axis":null},"y":{"field":"v","type":"quantitative","scale":{"type":"log","domain":[4.9e-10,6e-8],"nice":false},"axis":null},"text":{"field":"t"}}}
]},
{"width":319,"height":235,
"resolve":{"axis":{"x":"independent","y":"independent"}},
"layer":[
{"data":{"name":"RA_p"},"mark":{"type":"errorbar","clip":true,"thickness":1.2,"ticks":{"size":7}},
"encoding":{"x":{"field":"q","type":"quantitative","scale":{"domain":[0,0.16],"nice":false,"zero":false},"axis":{"orient":"bottom","values":[0,0.01,0.02,0.03,0.04,0.05,0.06,0.07,0.08,0.09,0.1,0.11,0.12,0.13,0.14,0.15,0.16],"labels":false,"title":null,"tickSize":{"condition":{"test":"abs(datum.value*50-round(datum.value*50))<0.01","value":-7},"value":-4}}},
"y":{"field":"v","type":"quantitative","scale":{"type":"log","domain":[2.02e-10,6.93e-8],"nice":false},"axis":{"orient":"left","values":[3e-10,4e-10,5e-10,6e-10,7e-10,8e-10,9e-10,1e-9,2e-9,3e-9,4e-9,5e-9,6e-9,7e-9,8e-9,9e-9,1e-8,2e-8,3e-8,4e-8,5e-8,6e-8],"labelExpr":"abs(log(datum.value)/LN10-round(log(datum.value)/LN10))<0.01 ? '1E'+round(log(datum.value)/LN10) : ''","labelFontSize":15,"labelPadding":21,"title":"RQ⁴(Å⁻⁴)","titleFontSize":19,"titlePadding":12,"titleY":132,"tickSize":{"condition":{"test":"abs(log(datum.value)/LN10-round(log(datum.value)/LN10))<0.01","value":-8},"value":-4}}},
"yError":{"field":"e"},
"color":{"field":"s","type":"nominal","scale":{"domain":["k","b","r","g","c","o"],"range":["#111111","#1a1aff","#ff1a1a","#b4b4b4","#22dbe8","#f7831d"]},"legend":null}}},
{"data":{"name":"RA_p"},"mark":{"type":"point","filled":false,"size":22,"strokeWidth":0.9,"clip":true},
"encoding":{"x":{"field":"q","type":"quantitative","scale":{"domain":[0,0.16],"nice":false,"zero":false},"axis":{"orient":"top","values":[0,0.01,0.02,0.03,0.04,0.05,0.06,0.07,0.08,0.09,0.1,0.11,0.12,0.13,0.14,0.15,0.16],"labels":false,"title":null,"tickSize":{"condition":{"test":"abs(datum.value*50-round(datum.value*50))<0.01","value":-7},"value":-4}}},
"y":{"field":"v","type":"quantitative","scale":{"type":"log","domain":[2.02e-10,6.93e-8],"nice":false},"axis":{"orient":"right","values":[3e-10,4e-10,5e-10,6e-10,7e-10,8e-10,9e-10,1e-9,2e-9,3e-9,4e-9,5e-9,6e-9,7e-9,8e-9,9e-9,1e-8,2e-8,3e-8,4e-8,5e-8,6e-8],"labels":false,"title":null,"tickSize":{"condition":{"test":"abs(log(datum.value)/LN10-round(log(datum.value)/LN10))<0.01","value":-8},"value":-4}}},
"shape":{"field":"s","type":"nominal","scale":{"domain":["k","b","r"],"range":["square","circle","triangle-up"]},"legend":null},
"color":{"field":"s","type":"nominal","scale":{"domain":["k","b","r","g","c","o"],"range":["#111111","#1a1aff","#ff1a1a","#b4b4b4","#22dbe8","#f7831d"]},"legend":null}}},
{"data":{"name":"RA_f"},"mark":{"type":"line","strokeWidth":2,"clip":true,"interpolate":"monotone"},
"encoding":{"x":{"field":"q","type":"quantitative","scale":{"domain":[0,0.16],"nice":false,"zero":false},"axis":null},"y":{"field":"v","type":"quantitative","scale":{"type":"log","domain":[2.02e-10,6.93e-8],"nice":false},"axis":null},"color":{"field":"s","type":"nominal","scale":{"domain":["k","b","r","g","c","o"],"range":["#111111","#1a1aff","#ff1a1a","#b4b4b4","#22dbe8","#f7831d"]},"legend":null}}},
{"data":{"values":[{"s":"k","q":0.03226,"v":5.6e-9,"t":"buffer"},{"s":"b","q":0.0924,"v":1.337e-9,"t":"pure bilayer"},{"s":"r","q":0.0598,"v":3.56e-10,"t":"+ PrP 12-mer"}]},"mark":{"type":"text","fontSize":19,"align":"left","baseline":"alphabetic"},
"encoding":{"x":{"field":"q","type":"quantitative","scale":{"domain":[0,0.16],"nice":false,"zero":false},"axis":null},"y":{"field":"v","type":"quantitative","scale":{"type":"log","domain":[2.02e-10,6.93e-8],"nice":false},"axis":null},"text":{"field":"t"},"color":{"field":"s","type":"nominal","scale":{"domain":["k","b","r","g","c","o"],"range":["#111111","#1a1aff","#ff1a1a","#b4b4b4","#22dbe8","#f7831d"]},"legend":null}}},
{"data":{"values":[{"q":-0.0677,"v":2.98e-8,"t":"100% D₂O"}]},"mark":{"type":"text","fontSize":24,"align":"left","baseline":"alphabetic","color":"#111"},
"encoding":{"x":{"field":"q","type":"quantitative","scale":{"domain":[0,0.16],"nice":false,"zero":false},"axis":null},"y":{"field":"v","type":"quantitative","scale":{"type":"log","domain":[2.02e-10,6.93e-8],"nice":false},"axis":null},"text":{"field":"t"}}},
{"data":{"values":[{"q":0.1359,"v":4.07e-10,"t":"(A)"}]},"mark":{"type":"text","fontSize":26,"align":"left","baseline":"alphabetic","color":"#111"},
"encoding":{"x":{"field":"q","type":"quantitative","scale":{"domain":[0,0.16],"nice":false,"zero":false},"axis":null},"y":{"field":"v","type":"quantitative","scale":{"type":"log","domain":[2.02e-10,6.93e-8],"nice":false},"axis":null},"text":{"field":"t"}}}
]},
{"width":318,"height":236,
"resolve":{"axis":{"x":"independent","y":"independent"}},
"layer":[
{"data":{"name":"LB_p"},"mark":{"type":"errorbar","clip":true,"thickness":1.2,"ticks":{"size":7}},
"encoding":{"x":{"field":"q","type":"quantitative","scale":{"domain":[0,0.16],"nice":false,"zero":false},"axis":{"orient":"bottom","values":[0,0.01,0.02,0.03,0.04,0.05,0.06,0.07,0.08,0.09,0.1,0.11,0.12,0.13,0.14,0.15,0.16],"labelExpr":"abs(datum.value*50-round(datum.value*50))<0.01 ? replace(format(datum.value,'.2f'),'.',',') : ''","labelFontSize":14,"labelPadding":22,"title":"Qz (Å⁻¹)","titleFontSize":18,"titlePadding":5,"tickSize":{"condition":{"test":"abs(datum.value*50-round(datum.value*50))<0.01","value":-7},"value":-4}}},
"y":{"field":"v","type":"quantitative","scale":{"type":"log","domain":[1.93e-11,8.1e-9],"nice":false},"axis":{"orient":"left","values":[2e-11,3e-11,4e-11,5e-11,6e-11,7e-11,8e-11,9e-11,1e-10,2e-10,3e-10,4e-10,5e-10,6e-10,7e-10,8e-10,9e-10,1e-9,2e-9,3e-9,4e-9,5e-9,6e-9,7e-9,8e-9],"labelExpr":"abs(log(datum.value)/LN10-round(log(datum.value)/LN10))<0.01 ? '1E'+round(log(datum.value)/LN10) : ''","labelFontSize":15,"labelPadding":21,"title":"RQz⁴(Å⁻⁴)","titleFontSize":19,"titlePadding":5,"tickSize":{"condition":{"test":"abs(log(datum.value)/LN10-round(log(datum.value)/LN10))<0.01","value":-8},"value":-4}}},
"yError":{"field":"e"},
"color":{"field":"s","type":"nominal","scale":{"domain":["k","b","r","g","c","o"],"range":["#111111","#1a1aff","#ff1a1a","#b4b4b4","#22dbe8","#f7831d"]},"legend":null}}},
{"data":{"name":"LB_p"},"mark":{"type":"point","filled":false,"size":22,"strokeWidth":0.9,"clip":true},
"encoding":{"x":{"field":"q","type":"quantitative","scale":{"domain":[0,0.16],"nice":false,"zero":false},"axis":{"orient":"top","values":[0,0.01,0.02,0.03,0.04,0.05,0.06,0.07,0.08,0.09,0.1,0.11,0.12,0.13,0.14,0.15,0.16],"labels":false,"title":null,"tickSize":{"condition":{"test":"abs(datum.value*50-round(datum.value*50))<0.01","value":-7},"value":-4}}},
"y":{"field":"v","type":"quantitative","scale":{"type":"log","domain":[1.93e-11,8.1e-9],"nice":false},"axis":{"orient":"right","values":[2e-11,3e-11,4e-11,5e-11,6e-11,7e-11,8e-11,9e-11,1e-10,2e-10,3e-10,4e-10,5e-10,6e-10,7e-10,8e-10,9e-10,1e-9,2e-9,3e-9,4e-9,5e-9,6e-9,7e-9,8e-9],"labels":false,"title":null,"tickSize":{"condition":{"test":"abs(log(datum.value)/LN10-round(log(datum.value)/LN10))<0.01","value":-8},"value":-4}}},
"shape":{"field":"s","type":"nominal","scale":{"domain":["k","b","r"],"range":["square","circle","triangle-up"]},"legend":null},
"color":{"field":"s","type":"nominal","scale":{"domain":["k","b","r","g","c","o"],"range":["#111111","#1a1aff","#ff1a1a","#b4b4b4","#22dbe8","#f7831d"]},"legend":null}}},
{"data":{"name":"LB_f"},"mark":{"type":"line","strokeWidth":2,"clip":true,"interpolate":"monotone"},
"encoding":{"x":{"field":"q","type":"quantitative","scale":{"domain":[0,0.16],"nice":false,"zero":false},"axis":null},"y":{"field":"v","type":"quantitative","scale":{"type":"log","domain":[1.93e-11,8.1e-9],"nice":false},"axis":null},"color":{"field":"s","type":"nominal","scale":{"domain":["k","b","r","g","c","o"],"range":["#111111","#1a1aff","#ff1a1a","#b4b4b4","#22dbe8","#f7831d"]},"legend":null}}},
{"data":{"values":[{"q":-0.0687,"v":2.98e-9,"t":"100% H₂O"}]},"mark":{"type":"text","fontSize":24,"align":"left","baseline":"alphabetic","color":"#111"},
"encoding":{"x":{"field":"q","type":"quantitative","scale":{"domain":[0,0.16],"nice":false,"zero":false},"axis":null},"y":{"field":"v","type":"quantitative","scale":{"type":"log","domain":[1.93e-11,8.1e-9],"nice":false},"axis":null},"text":{"field":"t"}}},
{"data":{"values":[{"q":0.1338,"v":5.65e-11,"t":"(B)"}]},"mark":{"type":"text","fontSize":26,"align":"left","baseline":"alphabetic","color":"#111"},
"encoding":{"x":{"field":"q","type":"quantitative","scale":{"domain":[0,0.16],"nice":false,"zero":false},"axis":null},"y":{"field":"v","type":"quantitative","scale":{"type":"log","domain":[1.93e-11,8.1e-9],"nice":false},"axis":null},"text":{"field":"t"}}}
]},
{"width":319,"height":236,
"resolve":{"axis":{"x":"independent","y":"independent"}},
"layer":[
{"data":{"name":"RB_p"},"mark":{"type":"errorbar","clip":true,"thickness":1.2,"ticks":{"size":7}},
"encoding":{"x":{"field":"q","type":"quantitative","scale":{"domain":[0,0.16],"nice":false,"zero":false},"axis":{"orient":"bottom","values":[0,0.01,0.02,0.03,0.04,0.05,0.06,0.07,0.08,0.09,0.1,0.11,0.12,0.13,0.14,0.15,0.16],"labelExpr":"abs(datum.value*50-round(datum.value*50))<0.01 ? replace(format(datum.value,'.2f'),'.',',') : ''","labelFontSize":14,"labelPadding":22,"title":"Qz (Å⁻¹)","titleFontSize":18,"titlePadding":5,"tickSize":{"condition":{"test":"abs(datum.value*50-round(datum.value*50))<0.01","value":-7},"value":-4}}},
"y":{"field":"v","type":"quantitative","scale":{"type":"log","domain":[1.93e-11,8.1e-9],"nice":false},"axis":{"orient":"left","values":[2e-11,3e-11,4e-11,5e-11,6e-11,7e-11,8e-11,9e-11,1e-10,2e-10,3e-10,4e-10,5e-10,6e-10,7e-10,8e-10,9e-10,1e-9,2e-9,3e-9,4e-9,5e-9,6e-9,7e-9,8e-9],"labelExpr":"abs(log(datum.value)/LN10-round(log(datum.value)/LN10))<0.01 ? '1E'+round(log(datum.value)/LN10) : ''","labelFontSize":15,"labelPadding":21,"title":"RQz⁴(Å⁻⁴)","titleFontSize":19,"titlePadding":5,"tickSize":{"condition":{"test":"abs(log(datum.value)/LN10-round(log(datum.value)/LN10))<0.01","value":-8},"value":-4}}},
"yError":{"field":"e"},
"color":{"field":"s","type":"nominal","scale":{"domain":["k","b","r","g","c","o"],"range":["#111111","#1a1aff","#ff1a1a","#b4b4b4","#22dbe8","#f7831d"]},"legend":null}}},
{"data":{"name":"RB_p"},"mark":{"type":"point","filled":false,"size":22,"strokeWidth":0.9,"clip":true},
"encoding":{"x":{"field":"q","type":"quantitative","scale":{"domain":[0,0.16],"nice":false,"zero":false},"axis":{"orient":"top","values":[0,0.01,0.02,0.03,0.04,0.05,0.06,0.07,0.08,0.09,0.1,0.11,0.12,0.13,0.14,0.15,0.16],"labels":false,"title":null,"tickSize":{"condition":{"test":"abs(datum.value*50-round(datum.value*50))<0.01","value":-7},"value":-4}}},
"y":{"field":"v","type":"quantitative","scale":{"type":"log","domain":[1.93e-11,8.1e-9],"nice":false},"axis":{"orient":"right","values":[2e-11,3e-11,4e-11,5e-11,6e-11,7e-11,8e-11,9e-11,1e-10,2e-10,3e-10,4e-10,5e-10,6e-10,7e-10,8e-10,9e-10,1e-9,2e-9,3e-9,4e-9,5e-9,6e-9,7e-9,8e-9],"labels":false,"title":null,"tickSize":{"condition":{"test":"abs(log(datum.value)/LN10-round(log(datum.value)/LN10))<0.01","value":-8},"value":-4}}},
"shape":{"field":"s","type":"nominal","scale":{"domain":["k","b","r"],"range":["square","circle","triangle-up"]},"legend":null},
"color":{"field":"s","type":"nominal","scale":{"domain":["k","b","r","g","c","o"],"range":["#111111","#1a1aff","#ff1a1a","#b4b4b4","#22dbe8","#f7831d"]},"legend":null}}},
{"data":{"name":"RB_f"},"mark":{"type":"line","strokeWidth":2,"clip":true,"interpolate":"monotone"},
"encoding":{"x":{"field":"q","type":"quantitative","scale":{"domain":[0,0.16],"nice":false,"zero":false},"axis":null},"y":{"field":"v","type":"quantitative","scale":{"type":"log","domain":[1.93e-11,8.1e-9],"nice":false},"axis":null},"color":{"field":"s","type":"nominal","scale":{"domain":["k","b","r","g","c","o"],"range":["#111111","#1a1aff","#ff1a1a","#b4b4b4","#22dbe8","#f7831d"]},"legend":null}}},
{"data":{"values":[{"q":-0.0677,"v":3.11e-9,"t":"100% H₂O"}]},"mark":{"type":"text","fontSize":24,"align":"left","baseline":"alphabetic","color":"#111"},
"encoding":{"x":{"field":"q","type":"quantitative","scale":{"domain":[0,0.16],"nice":false,"zero":false},"axis":null},"y":{"field":"v","type":"quantitative","scale":{"type":"log","domain":[1.93e-11,8.1e-9],"nice":false},"axis":null},"text":{"field":"t"}}},
{"data":{"values":[{"q":0.1348,"v":5.41e-11,"t":"(B)"}]},"mark":{"type":"text","fontSize":26,"align":"left","baseline":"alphabetic","color":"#111"},
"encoding":{"x":{"field":"q","type":"quantitative","scale":{"domain":[0,0.16],"nice":false,"zero":false},"axis":null},"y":{"field":"v","type":"quantitative","scale":{"type":"log","domain":[1.93e-11,8.1e-9],"nice":false},"axis":null},"text":{"field":"t"}}}
]}
]
}
